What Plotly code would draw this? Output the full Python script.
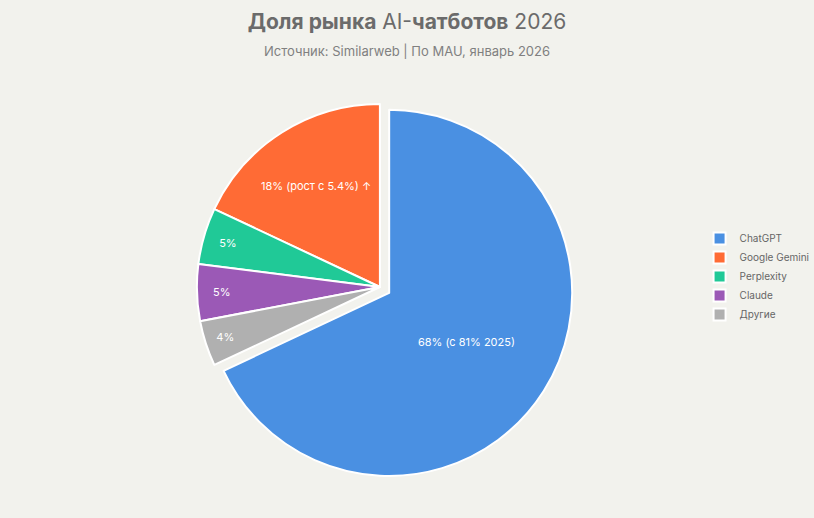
import plotly.graph_objects as go

labels = ["ChatGPT", "Google Gemini", "Perplexity", "Claude", "Другие"]
values = [68, 18, 5, 5, 4]
texts = ["68% (с 81% 2025)", "18% (рост с 5.4%) ↑", "5%", "5%", "4%"]
colors = ["#4A90E2", "#FF6B35", "#20C997", "#9B59B6", "#B0B0B0"]
pulls = [0.06, 0, 0, 0, 0]

BG = "#F2F2ED"

fig = go.Figure(go.Pie(
    labels=labels, values=values, text=texts,
    textinfo="text", textposition="inside",
    insidetextorientation="horizontal",
    textfont=dict(color="white", size=11, family="Inter"),
    marker=dict(colors=colors, line=dict(color="white", width=2)),
    pull=pulls, sort=False, direction="counterclockwise", rotation=0,
    domain=dict(x=[0, 0.93], y=[0, 1]),
))

fig.update_layout(
    width=814, height=518,
    paper_bgcolor=BG, plot_bgcolor=BG,
    margin=dict(l=20, r=20, t=93, b=37, autoexpand=False),
    font=dict(family="Inter", color="#666666"),
    title=dict(
        text="<b>Доля рынка</b> AI-<b>чатботов</b> 2026"
             "<br><span style='font-size:13px;color:#808080'>Источник: Similarweb | По MAU, январь 2026</span>",
        x=0.5, xanchor="center", y=0.944, yanchor="top",
        font=dict(size=21, color="#6b6b6b", family="Inter"),
    ),
    legend=dict(x=0.878, y=0.527, xanchor="left", yanchor="middle",
                font=dict(size=10, color="#666666"), bgcolor="rgba(0,0,0,0)",
                tracegroupgap=0),
    showlegend=True,
)

fig.write_html(
    "out.html",
    config={"displayModeBar": False},
    post_script=f"document.body.style.margin='0';document.body.style.background='{BG}';",
)
